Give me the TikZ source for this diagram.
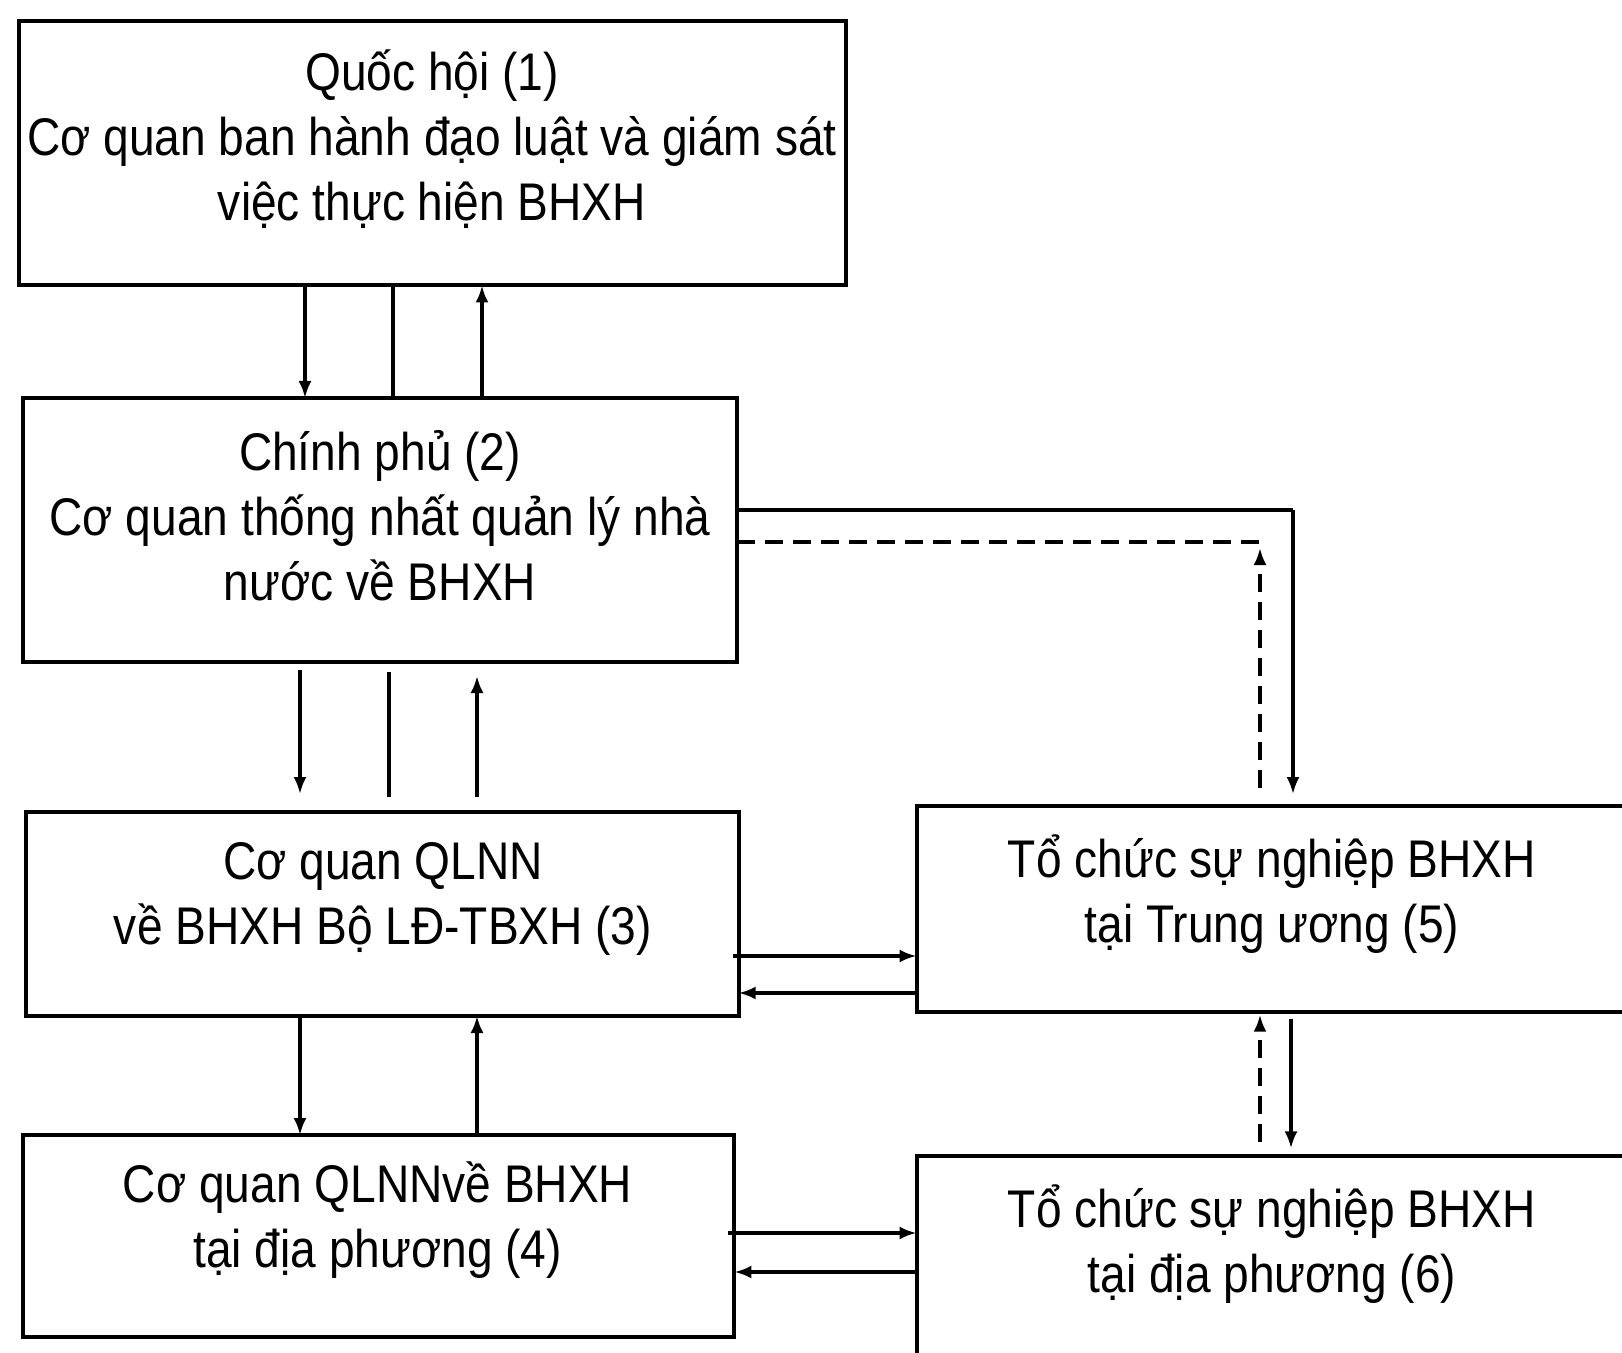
\documentclass[tikz,border=0pt]{standalone}
\usepackage{fontspec}
\setmainfont[FakeStretch=0.87]{Liberation Sans}
\usetikzlibrary{arrows.meta}
\begin{document}
\begin{tikzpicture}[x=0.5pt,y=-0.5pt,
  box/.style={draw, line width=2pt, inner sep=0pt, outer sep=0pt},
  lbl/.style={align=center, inner sep=0pt, font=\fontsize{26.5}{32.5}\selectfont},
  conn/.style={line width=1.6pt},
  tip/.style={-{Latex[length=8.5pt,width=6.5pt]}},
  arr/.style={conn, tip},
  dsh/.style={conn, dash pattern=on 9pt off 5pt}]
\useasboundingbox (0,0) rectangle (1622,1353);
\fill[white] (0,0) rectangle (1622,1353);
\clip (0,0) rectangle (1622,1353);
% boxes
\node[box, minimum width=413.7pt, minimum height=132.4pt] (b1) at (432.3,153.1) {};
\node[box, minimum width=356.9pt, minimum height=132pt] (b2) at (379.6,530) {};
\node[box, minimum width=356.4pt, minimum height=102pt] (b3) at (382.2,914) {};
\node[box, minimum width=355.8pt, minimum height=101.2pt] (b4) at (378.6,1236.2) {};
\node[box, minimum width=356.8pt, minimum height=102.8pt] (b5) at (1273.3,908.9) {};
\node[box, minimum width=356.8pt, minimum height=131.8pt] (b6) at (1273.3,1288.2) {};
% labels
\node[lbl] (t1) at (432,139.6) {Quốc hội (1)\\Cơ quan ban hành đạo luật và giám sát\\việc thực hiện BHXH};
\node[lbl] (t2) at (380,516) {Chính phủ (2)\\Cơ quan thống nhất quản lý nhà\\nước về BHXH};
\node[lbl] (t3) at (383,899) {Cơ quan QLNN\\về BHXH Bộ LĐ-TBXH (3)};
\node[lbl] (t4) at (377.6,1220.6) {Cơ quan QLNNvề BHXH\\tại địa phương (4)};
\node[lbl] (t5) at (1272,894) {Tổ chức sự nghiệp BHXH\\tại Trung ương (5)};
\node[lbl] (t6) at (1272,1244) {Tổ chức sự nghiệp BHXH\\tại địa phương (6)};
% 1 - 2
\draw[arr] (305,0 |- b1.south) -- (305,0 |- b2.north);
\draw[conn] (393,0 |- b1.south) -- (393,0 |- b2.north);
\draw[arr] (482,0 |- b2.north) -- (482,0 |- b1.south);
% 2 - 3
\draw[arr, shorten <=4pt, shorten >=9pt] (300,0 |- b2.south) -- (300,0 |- b3.north);
\draw[conn, shorten <=5pt, shorten >=7.5pt] (389,0 |- b2.south) -- (389,0 |- b3.north);
\draw[arr, shorten <=7.5pt, shorten >=7pt] (477,0 |- b3.north) -- (477,0 |- b2.south);
% 3 - 4
\draw[arr] (300,0 |- b3.south) -- (300,0 |- b4.north);
\draw[arr] (477,0 |- b4.north) -- (477,0 |- b3.south);
% 2 - 5
\coordinate (c1) at (1293,510);
\coordinate (c2) at (1260,542);
\draw[conn] (b2.east |- c1) -- (c1);
\draw[arr, shorten >=6pt] (c1) -- (c1 |- b5.north);
\draw[dsh] (b2.east |- c2) -- (c2);
\draw[dsh, tip, shorten <=9pt, shorten >=3pt] (c2 |- b5.north) -- (c2);
% 3 - 5
\draw[arr, shorten <=-3pt] (b3.east |- 0,956) -- (b5.west |- 0,956);
\draw[arr] (b5.west |- 0,993) -- (b3.east |- 0,993);
% 4 - 6
\draw[arr, shorten <=-3pt] (b4.east |- 0,1233) -- (b6.west |- 0,1233);
\draw[arr] (b6.west |- 0,1272) -- (b4.east |- 0,1272);
% 5 - 6
\draw[dsh, tip, shorten <=7pt, shorten >=1.5pt] (1260,0 |- b6.north) -- (1260,0 |- b5.south);
\draw[arr, shorten <=3.5pt, shorten >=4pt] (1291,0 |- b5.south) -- (1291,0 |- b6.north);
\end{tikzpicture}
\end{document}
